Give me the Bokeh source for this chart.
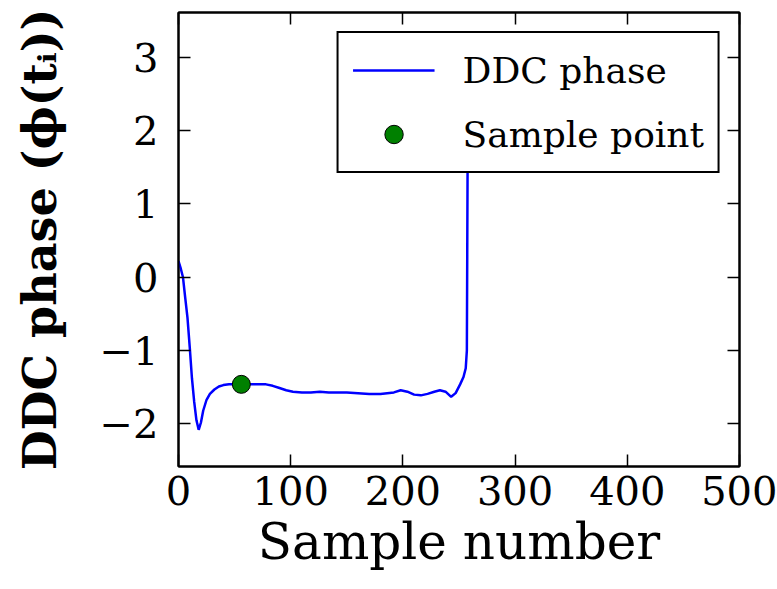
from bokeh.plotting import figure
from bokeh.models import LinearAxis, FixedTicker, Range1d, Legend, LegendItem
from bokeh.embed import file_html
from bokeh.resources import INLINE

sample_number = [0, 2, 4, 6, 8, 10, 12, 14, 16, 18, 20, 22, 25, 28, 32, 36, 40, 45, 50,
                 56, 62, 70, 78, 84, 90, 96, 102, 110, 118, 126, 134, 142, 150, 160, 170,
                 180, 186, 192, 198, 204, 210, 216, 222, 228, 233, 238, 243, 247, 251,
                 254, 256, 257, 258]
ddc_phase = [0.22, 0.12, 0.0, -0.28, -0.55, -0.95, -1.38, -1.70, -1.95, -2.08, -1.98,
             -1.82, -1.67, -1.59, -1.53, -1.49, -1.47, -1.46, -1.46, -1.46, -1.46, -1.46,
             -1.46, -1.48, -1.51, -1.54, -1.56, -1.57, -1.57, -1.56, -1.57, -1.57, -1.57,
             -1.58, -1.59, -1.59, -1.58, -1.57, -1.54, -1.56, -1.60, -1.61, -1.59, -1.56,
             -1.54, -1.56, -1.63, -1.58, -1.46, -1.36, -1.24, -1.0, 2.8]
point_x = [56]
point_y = [-1.46]

x_ticks = [0, 100, 200, 300, 400, 500]
x_tick_labels = ["0", "100", "200", "300", "400", "500"]
y_ticks = [-2, -1, 0, 1, 2, 3]
y_tick_labels = ["\u22122", "\u22121", "0", "1", "2", "3"]

FONT = "DejaVu Serif"

p = figure(width=777, height=589, output_backend="svg", toolbar_location=None,
           x_range=Range1d(0, 500), y_range=Range1d(-2.58, 3.61),
           min_border_left=178, min_border_right=38, min_border_top=12,
           min_border_bottom=123)
p.grid.visible = False
p.outline_line_color = "black"
p.outline_line_width = 2
p.outline_line_alpha = 1.0
p.background_fill_color = "white"
p.border_fill_color = "white"

xt = FixedTicker(ticks=x_ticks)
yt = FixedTicker(ticks=y_ticks)

def style_axis(ax, labels, show_labels=True):
    ax.axis_line_width = 2
    ax.axis_line_color = "black"
    ax.major_tick_in = 12
    ax.major_tick_out = 0
    ax.major_tick_line_width = 1.5
    ax.major_tick_line_color = "black"
    ax.minor_tick_line_color = None
    ax.major_label_text_font = FONT
    ax.major_label_text_color = "black"
    if show_labels:
        ax.major_label_text_font_size = "40px"
        ax.major_label_overrides = labels
    else:
        ax.major_label_text_font_size = "1px"
        ax.major_label_text_color = None
        ax.major_label_standoff = 0

xax = p.xaxis[0]
xax.ticker = xt
style_axis(xax, {t: l for t, l in zip(x_ticks, x_tick_labels)})
xax.major_label_standoff = 9
xax.axis_label = "Sample number"
xax.axis_label_text_font = FONT
xax.axis_label_text_font_size = "50px"
xax.axis_label_text_font_style = "normal"
xax.axis_label_text_color = "black"
xax.axis_label_standoff = 5

yax = p.yaxis[0]
yax.ticker = yt
style_axis(yax, {t: l for t, l in zip(y_ticks, y_tick_labels)})
yax.major_label_standoff = 20
yax.axis_label = "DDC phase (\u03d5(t\u1d62))"
yax.axis_label_text_font = FONT
yax.axis_label_text_font_size = "46px"
yax.axis_label_text_font_style = "bold"
yax.axis_label_text_color = "black"
yax.axis_label_standoff = 30

top_ax = LinearAxis(ticker=xt)
style_axis(top_ax, {}, show_labels=False)
p.add_layout(top_ax, "above")
right_ax = LinearAxis(ticker=yt)
style_axis(right_ax, {}, show_labels=False)
p.add_layout(right_ax, "right")

line_r = p.line(sample_number, ddc_phase, line_color="#0000ff", line_width=2.5)
pt_r = p.scatter(point_x, point_y, size=18, fill_color="#008000",
                 line_color="black", line_width=1)

legend = Legend(items=[LegendItem(label="DDC phase", renderers=[line_r]),
                       LegendItem(label="Sample point", renderers=[pt_r])],
                location="top_right", margin=19, padding=14, spacing=18,
                glyph_width=82, glyph_height=46, label_height=46, label_standoff=28,
                label_text_font=FONT, label_text_font_size="36px",
                label_text_color="black",
                border_line_color="black", border_line_width=2.5,
                border_line_alpha=1.0,
                background_fill_color="white", background_fill_alpha=1.0)
p.add_layout(legend)

open("out.html", "w").write(file_html(p, INLINE))
